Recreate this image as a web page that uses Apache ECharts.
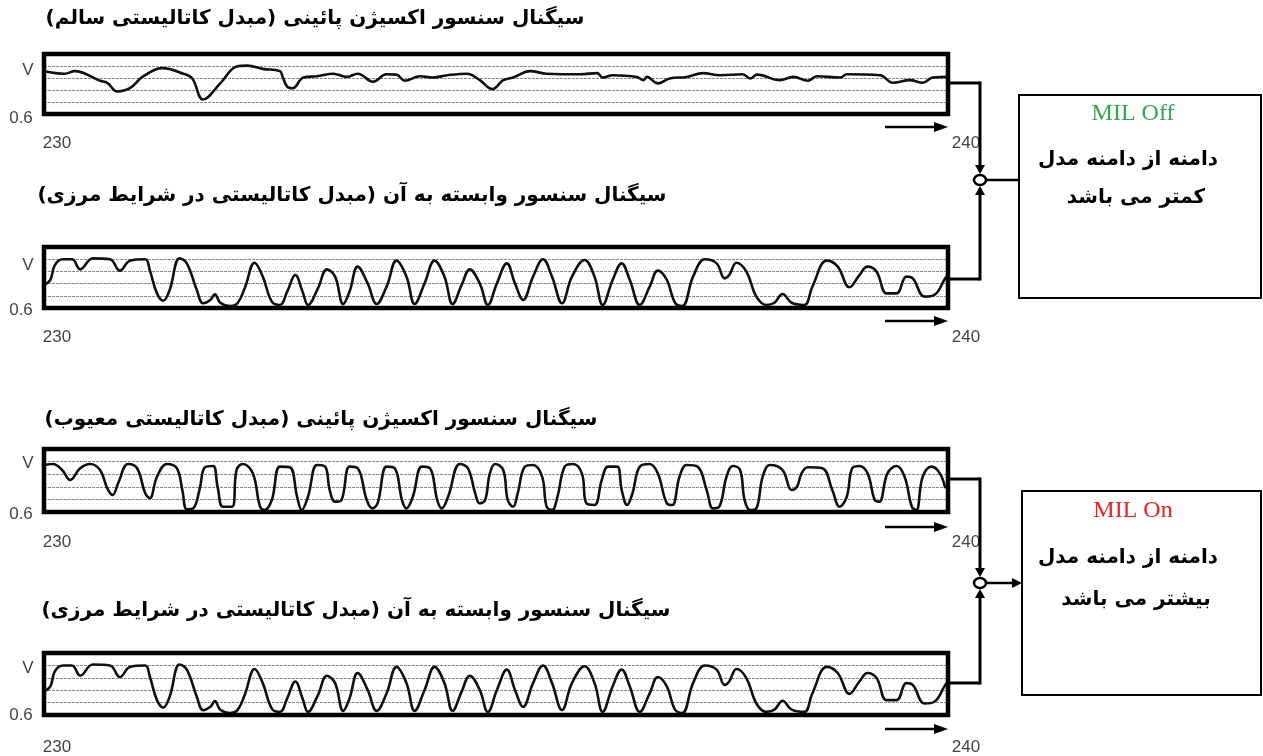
<!DOCTYPE html>
<html>
<head>
<meta charset="utf-8">
<script src="https://cdn.jsdelivr.net/npm/echarts@6/dist/echarts.min.js"></script>
<style>
  html, body { margin: 0; background: #fff; }
  #chart { width: 1263px; height: 756px; }
</style>
</head>
<body>
<div id="chart"></div>
<script>
// ---- data: [time (s), level] ----
const healthyDownstream = [
  [230.00, 3.57], [230.23, 3.36], [230.34, 3.57], [230.62, 2.77], [230.70, 2.60], [230.81, 1.88],
  [230.95, 2.15], [231.10, 3.15], [231.31, 3.82], [231.54, 3.36], [231.64, 2.96], [231.76, 1.21],
  [231.95, 2.55], [232.13, 3.95], [232.25, 4.03], [232.42, 3.76], [232.61, 3.57], [232.64, 3.09],
  [232.69, 2.28], [232.75, 2.15], [232.87, 3.04], [233.02, 3.15], [233.20, 3.36], [233.35, 3.09],
  [233.47, 3.36], [233.64, 2.69], [233.79, 3.31], [233.90, 3.28], [233.99, 2.77], [234.16, 3.15],
  [234.30, 3.04], [234.46, 3.23], [234.68, 3.36], [234.82, 2.82], [234.96, 2.07], [235.08, 2.82],
  [235.19, 3.04], [235.38, 3.57], [235.56, 3.36], [235.93, 3.31], [236.12, 3.41], [236.18, 3.04],
  [236.29, 3.23], [236.56, 3.09], [236.63, 2.82], [236.67, 3.09], [236.79, 2.55], [236.92, 2.96],
  [237.11, 3.09], [237.29, 3.41], [237.48, 3.23], [237.73, 3.31], [237.81, 2.96], [237.89, 3.28],
  [238.14, 2.82], [238.29, 3.09], [238.45, 2.77], [238.55, 3.15], [238.81, 3.04], [238.88, 3.31],
  [239.25, 3.23], [239.39, 2.60], [239.58, 2.82], [239.72, 2.60], [239.83, 3.04], [240.00, 3.09]
];

const boundaryRelated = [
  [230.00, 1.89], [230.07, 2.30], [230.12, 3.52], [230.21, 3.99], [230.31, 3.99], [230.40, 3.17],
  [230.54, 4.07], [230.73, 3.99], [230.84, 3.06], [230.95, 3.88], [231.12, 3.99], [231.17, 3.11],
  [231.25, 1.20], [231.32, 0.60], [231.39, 1.48], [231.50, 4.07], [231.58, 3.66], [231.69, 1.48],
  [231.76, 0.39], [231.84, 0.66], [231.89, 1.12], [231.95, 0.43], [232.06, 0.16], [232.14, 0.39],
  [232.22, 1.61], [232.33, 3.71], [232.42, 2.57], [232.52, 0.52], [232.61, 0.25], [232.69, 1.34],
  [232.78, 2.70], [232.86, 1.34], [232.92, 0.25], [233.03, 1.61], [233.13, 3.17], [233.22, 2.57],
  [233.31, 0.33], [233.38, 1.34], [233.47, 3.39], [233.58, 2.02], [233.68, 0.33], [233.79, 1.75],
  [233.90, 3.88], [234.01, 2.57], [234.10, 0.33], [234.21, 2.02], [234.32, 3.88], [234.43, 2.57],
  [234.52, 0.33], [234.62, 1.89], [234.71, 3.17], [234.82, 2.02], [234.91, 0.25], [235.01, 2.02],
  [235.12, 3.66], [235.21, 2.02], [235.30, 0.66], [235.41, 2.57], [235.52, 3.99], [235.62, 2.57],
  [235.73, 0.39], [235.84, 2.57], [235.98, 3.93], [236.09, 2.57], [236.18, 0.25], [236.29, 2.30],
  [236.39, 3.66], [236.48, 2.30], [236.59, 0.25], [236.70, 1.75], [236.79, 3.06], [236.89, 2.30],
  [236.98, 0.43], [237.06, 0.16], [237.18, 2.57], [237.31, 3.99], [237.44, 3.66], [237.53, 2.43],
  [237.58, 2.70], [237.66, 3.71], [237.77, 2.98], [237.88, 0.93], [237.99, 0.25], [238.08, 0.43],
  [238.17, 1.15], [238.27, 0.43], [238.41, 0.25], [238.50, 1.75], [238.66, 3.88], [238.78, 3.39],
  [238.91, 1.70], [239.02, 2.70], [239.11, 3.39], [239.21, 2.98], [239.32, 1.20], [239.43, 1.20],
  [239.54, 2.57], [239.61, 2.43], [239.74, 0.93], [239.85, 1.07], [239.97, 2.43], [240.00, 2.70]
];

const faultyDownstream = [
  [230.00, 3.73], [230.10, 3.81], [230.20, 3.33], [230.29, 2.54], [230.40, 3.47], [230.51, 3.81],
  [230.62, 3.33], [230.70, 1.88], [230.76, 1.35], [230.82, 2.28], [230.93, 3.81], [231.03, 3.47],
  [231.12, 1.48], [231.17, 1.09], [231.25, 2.80], [231.36, 3.81], [231.47, 3.47], [231.53, 1.75],
  [231.58, 0.21], [231.65, 0.29], [231.72, 1.75], [231.78, 3.55], [231.87, 3.65], [231.92, 2.01],
  [231.98, 0.42], [232.08, 0.42], [232.13, 3.33], [232.20, 3.81], [232.31, 3.07], [232.39, 0.42],
  [232.44, 0.16], [232.52, 0.95], [232.61, 3.60], [232.72, 3.55], [232.80, 1.21], [232.85, 0.16],
  [232.92, 1.21], [233.02, 3.73], [233.11, 3.60], [233.16, 1.75], [233.22, 0.82], [233.29, 0.95],
  [233.38, 3.60], [233.47, 3.47], [233.57, 0.95], [233.63, 0.29], [233.69, 0.69], [233.79, 3.60],
  [233.88, 3.47], [233.96, 0.95], [234.01, 0.29], [234.08, 1.21], [234.18, 3.60], [234.27, 3.47],
  [234.35, 0.95], [234.40, 0.29], [234.47, 1.21], [234.60, 3.81], [234.69, 3.47], [234.77, 1.48],
  [234.82, 0.69], [234.88, 0.95], [234.93, 3.00], [234.99, 3.81], [235.08, 3.33], [235.13, 0.95],
  [235.19, 0.42], [235.24, 1.48], [235.32, 3.60], [235.41, 3.73], [235.51, 2.80], [235.56, 0.42],
  [235.62, 0.16], [235.68, 1.21], [235.76, 3.60], [235.85, 3.81], [235.95, 3.07], [236.00, 0.69],
  [236.09, 0.56], [236.17, 2.54], [236.24, 3.60], [236.34, 3.60], [236.39, 1.75], [236.45, 0.56],
  [236.51, 1.48], [236.59, 3.60], [236.70, 3.81], [236.79, 3.07], [236.89, 0.69], [236.95, 0.56],
  [237.03, 2.80], [237.11, 3.73], [237.23, 3.60], [237.33, 1.75], [237.40, 0.29], [237.47, 0.42],
  [237.55, 2.80], [237.62, 3.65], [237.70, 3.33], [237.75, 0.95], [237.81, 0.16], [237.88, 0.29],
  [237.95, 2.80], [238.03, 3.73], [238.17, 3.33], [238.27, 1.75], [238.33, 2.01], [238.38, 3.07],
  [238.45, 3.55], [238.61, 3.47], [238.72, 1.75], [238.80, 0.42], [238.88, 1.21], [238.94, 3.47],
  [239.02, 3.65], [239.11, 3.07], [239.19, 0.95], [239.24, 0.82], [239.33, 3.07], [239.43, 3.65],
  [239.52, 2.80], [239.60, 0.42], [239.65, 0.16], [239.72, 2.80], [239.82, 3.60], [239.91, 3.07],
  [239.97, 1.88]
];

// ---- 文本 ----
const titles = [
  'سیگنال سنسور اکسیژن پائینی (مبدل کاتالیستی سالم)',
  'سیگنال سنسور وابسته به آن (مبدل کاتالیستی در شرایط مرزی)',
  'سیگنال سنسور اکسیژن پائینی (مبدل کاتالیستی معیوب)',
  'سیگنال سنسور وابسته به آن (مبدل کاتالیستی در شرایط مرزی)'
];
const yTickLabels = ['V', '0.6'];
const xTickLabels = ['230', '240'];
const milStates = ['MIL Off', 'MIL On'];
const milLine1 = ['دامنه از دامنه مدل', 'دامنه از دامنه مدل'];
const milLine2 = ['کمتر می باشد', 'بیشتر می باشد'];

// ---- layout of the four strips ----
const panels = [
  { top: 54, height: 60, data: healthyDownstream, titleX: 315, titleY: 19, vY: 70, zY: 118, tY: 143, arrowY: 127 },
  { top: 247, height: 61, data: boundaryRelated, titleX: 352, titleY: 196, vY: 265, zY: 310, tY: 337, arrowY: 321 },
  { top: 449, height: 63, data: faultyDownstream, titleX: 321, titleY: 420, vY: 463, zY: 514, tY: 542, arrowY: 527 },
  { top: 653, height: 62, data: boundaryRelated, titleX: 356, titleY: 611, vY: 668, zY: 715, tY: 747, arrowY: 729 }
];
const GRID_LEFT = 44;
const GRID_RIGHT_X = 948;

const RLM = '\u200F';
const labelFont = '17px "Liberation Sans", Arial, sans-serif';
const faFont = 'bold 20px "DejaVu Sans", sans-serif';

function text(x, y, str, font, fill, align) {
  return {
    type: 'text', silent: true,
    style: { x, y, text: str, font, fill, textAlign: align || 'center', textVerticalAlign: 'middle' }
  };
}
function seg(x1, y1, x2, y2, w) {
  return { type: 'line', silent: true, shape: { x1, y1, x2, y2 }, style: { stroke: '#000', lineWidth: w || 3 } };
}
function head(points) {
  return { type: 'polygon', silent: true, shape: { points }, style: { fill: '#000' } };
}

const graphic = [];
panels.forEach((p, i) => {
  graphic.push(text(p.titleX, p.titleY, RLM + titles[i] + RLM, faFont, '#000'));
  graphic.push(text(28, p.vY, yTickLabels[0], labelFont, '#444'));
  graphic.push(text(21, p.zY, yTickLabels[1], labelFont, '#444'));
  graphic.push(text(57, p.tY, xTickLabels[0], labelFont, '#444'));
  graphic.push(text(966, p.tY, xTickLabels[1], labelFont, '#444'));
  // thick frame drawn over the strip
  graphic.push({
    type: 'rect', silent: true, z: 100,
    shape: { x: GRID_LEFT, y: p.top, width: GRID_RIGHT_X - GRID_LEFT, height: p.height },
    style: { fill: 'none', stroke: '#000', lineWidth: 4.5 }
  });
  // 时间方向箭头
  graphic.push(seg(885, p.arrowY, 936, p.arrowY, 2.5));
  graphic.push(head([[934, p.arrowY - 5], [948, p.arrowY], [934, p.arrowY + 5]]));
});

// ---- 连接线 + 比较圈 + MIL 框 ----
function junction(yA, yB, cy, boxX, withHead) {
  const cx = 980;
  graphic.push(seg(950, yA, cx, yA));
  graphic.push(seg(cx, yA - 1.5, cx, cy - 14));
  graphic.push(head([[cx - 5, cy - 15], [cx + 5, cy - 15], [cx, cy - 6]]));
  graphic.push(seg(950, yB, cx, yB));
  graphic.push(seg(cx, yB + 1.5, cx, cy + 14));
  graphic.push(head([[cx - 5, cy + 15], [cx + 5, cy + 15], [cx, cy + 6]]));
  graphic.push({
    type: 'ellipse', silent: true,
    shape: { cx, cy, rx: 6, ry: 5 },
    style: { fill: '#fff', stroke: '#000', lineWidth: 2.5 }
  });
  graphic.push(seg(cx + 6, cy, withHead ? boxX - 8 : boxX, cy, 2.5));
  if (withHead) graphic.push(head([[boxX - 10, cy - 5], [boxX, cy], [boxX - 10, cy + 5]]));
}
junction(83, 279, 180, 1019, false);
junction(479, 683, 583, 1022, true);

const boxes = [
  { x: 1019, y: 95, h: 203, stateY: 114, l1Y: 160, l2Y: 198, color: '#2FA84F' },
  { x: 1022, y: 491, h: 204, stateY: 511, l1Y: 558, l2Y: 600, color: '#FF1A1A' }
];
boxes.forEach((b, i) => {
  graphic.push({
    type: 'rect', silent: true,
    shape: { x: b.x, y: b.y, width: 1261 - b.x, height: b.h },
    style: { fill: 'none', stroke: '#000', lineWidth: 2 }
  });
  graphic.push(text(1133, b.stateY, milStates[i], '24px "Liberation Serif", "Times New Roman", serif', b.color));
  graphic.push(text(1128, b.l1Y, RLM + milLine1[i] + RLM, faFont, '#000'));
  graphic.push(text(1136, b.l2Y, RLM + milLine2[i] + RLM, faFont, '#000'));
});

// ---- ECharts option ----
const chart = echarts.init(document.getElementById('chart'));
chart.setOption({
  animation: false,
  backgroundColor: '#fff',
  grid: panels.map(p => ({
    left: GRID_LEFT, top: p.top, width: GRID_RIGHT_X - GRID_LEFT, height: p.height,
    show: false
  })),
  xAxis: panels.map((p, i) => ({
    type: 'value', gridIndex: i, min: 230, max: 240,
    axisLine: { show: false }, axisTick: { show: false }, axisLabel: { show: false },
    splitLine: { show: false }
  })),
  yAxis: panels.map((p, i) => ({
    type: 'value', gridIndex: i, min: 0, max: 5, interval: 1,
    axisLine: { show: false }, axisTick: { show: false }, axisLabel: { show: false },
    splitLine: {
      show: true, showMinLine: false, showMaxLine: false,
      lineStyle: { color: '#8a8a8a', width: 1, type: [3, 1] }
    }
  })),
  series: panels.map((p, i) => ({
    type: 'line', xAxisIndex: i, yAxisIndex: i,
    data: p.data, smooth: 0.4, symbol: 'none', clip: true,
    lineStyle: { color: '#111', width: 2.6 }
  })),
  graphic
});
</script>
</body>
</html>
